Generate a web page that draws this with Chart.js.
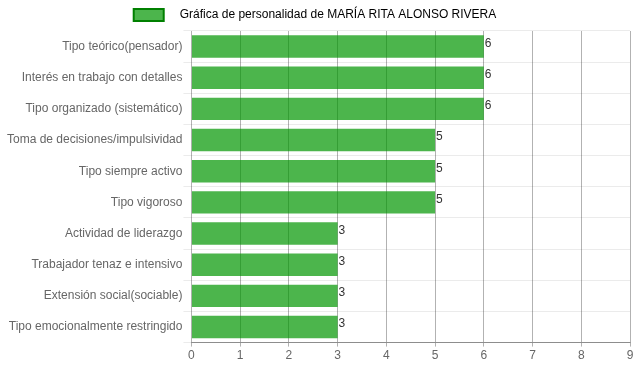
<!DOCTYPE html>
<html>
<head>
<meta charset="utf-8">
<script src="https://cdn.jsdelivr.net/npm/chart.js@4/dist/chart.umd.min.js"></script>
<style>
  html, body { margin: 0; padding: 0; background: #fff; }
  #wrap { width: 637px; height: 371px; }
</style>
</head>
<body>
<div id="wrap"><canvas id="chart"></canvas></div>
<script>
// datos de la gráfica
const categorias = [
    'Tipo teórico(pensador)',
    'Interés en trabajo con detalles',
    'Tipo organizado (sistemático)',
    'Toma de decisiones/impulsividad',
    'Tipo siempre activo',
    'Tipo vigoroso',
    'Actividad de liderazgo',
    'Trabajador tenaz e intensivo',
    'Extensión social(sociable)',
    'Tipo emocionalmente restringido'
];
const valores = [6, 6, 6, 5, 5, 5, 3, 3, 3, 3];
const ticksX = [0, 1, 2, 3, 4, 5, 6, 7, 8, 9];
const titulo = 'Gráfica de personalidad de MARÍA RITA ALONSO RIVERA';

Chart.defaults.font.family = "'Liberation Sans', Arial, sans-serif";
Chart.defaults.font.size = 12;
Chart.defaults.color = '#666';

// etiquetas al final de cada barra
const etiquetas = {
    id: 'etiquetas',
    afterDatasetsDraw(chart) {
        const ctx = chart.ctx;
        const meta = chart.getDatasetMeta(0);
        ctx.save();
        ctx.fillStyle = '#333';
        ctx.font = "12px 'Liberation Sans', Arial, sans-serif";
        ctx.textAlign = 'left';
        ctx.textBaseline = 'middle';
        meta.data.forEach((bar, i) => {
            ctx.fillText(valores[i], bar.x + 1, bar.y - 3);
        });
        ctx.restore();
    }
};

new Chart(document.getElementById('chart'), {
    type: 'bar',
    data: {
        labels: categorias,
        datasets: [{
            label: titulo,
            data: valores,
            backgroundColor: 'rgba(0,150,0,0.7)',
            borderColor: '#008000',
            borderWidth: 0
        }]
    },
    options: {
        indexAxis: 'y',
        responsive: true,
        maintainAspectRatio: false,
        animation: false,
        layout: { padding: { left: 0, right: 7, top: 0, bottom: 6 } },
        plugins: {
            legend: {
                position: 'top',
                labels: {
                    boxWidth: 30,
                    boxHeight: 12,
                    padding: 9,
                    generateLabels(chart) {
                        return [{
                            text: '   ' + titulo,
                            fillStyle: 'rgba(0,150,0,0.7)',
                            strokeStyle: '#008000',
                            lineWidth: 2,
                            datasetIndex: 0,
                            hidden: false
                        }];
                    }
                }
            },
            tooltip: { enabled: false }
        },
        scales: {
            x: {
                min: 0,
                max: 9,
                afterBuildTicks(axis) {
                    axis.ticks = ticksX.map(v => ({ value: v }));
                },
                grid: {
                    color: 'rgba(0,0,0,0.3)',
                    tickLength: 4
                },
                border: { color: 'rgba(0,0,0,0.4)' },
                ticks: { padding: 2 }
            },
            y: {
                afterFit(axis) {
                    axis.width += 6;
                },
                grid: {
                    color: 'rgba(0,0,0,0.08)',
                    offset: true,
                    tickLength: 8
                },
                border: { display: false },
                ticks: { padding: 1 }
            }
        }
    },
    plugins: [etiquetas]
});
</script>
</body>
</html>
